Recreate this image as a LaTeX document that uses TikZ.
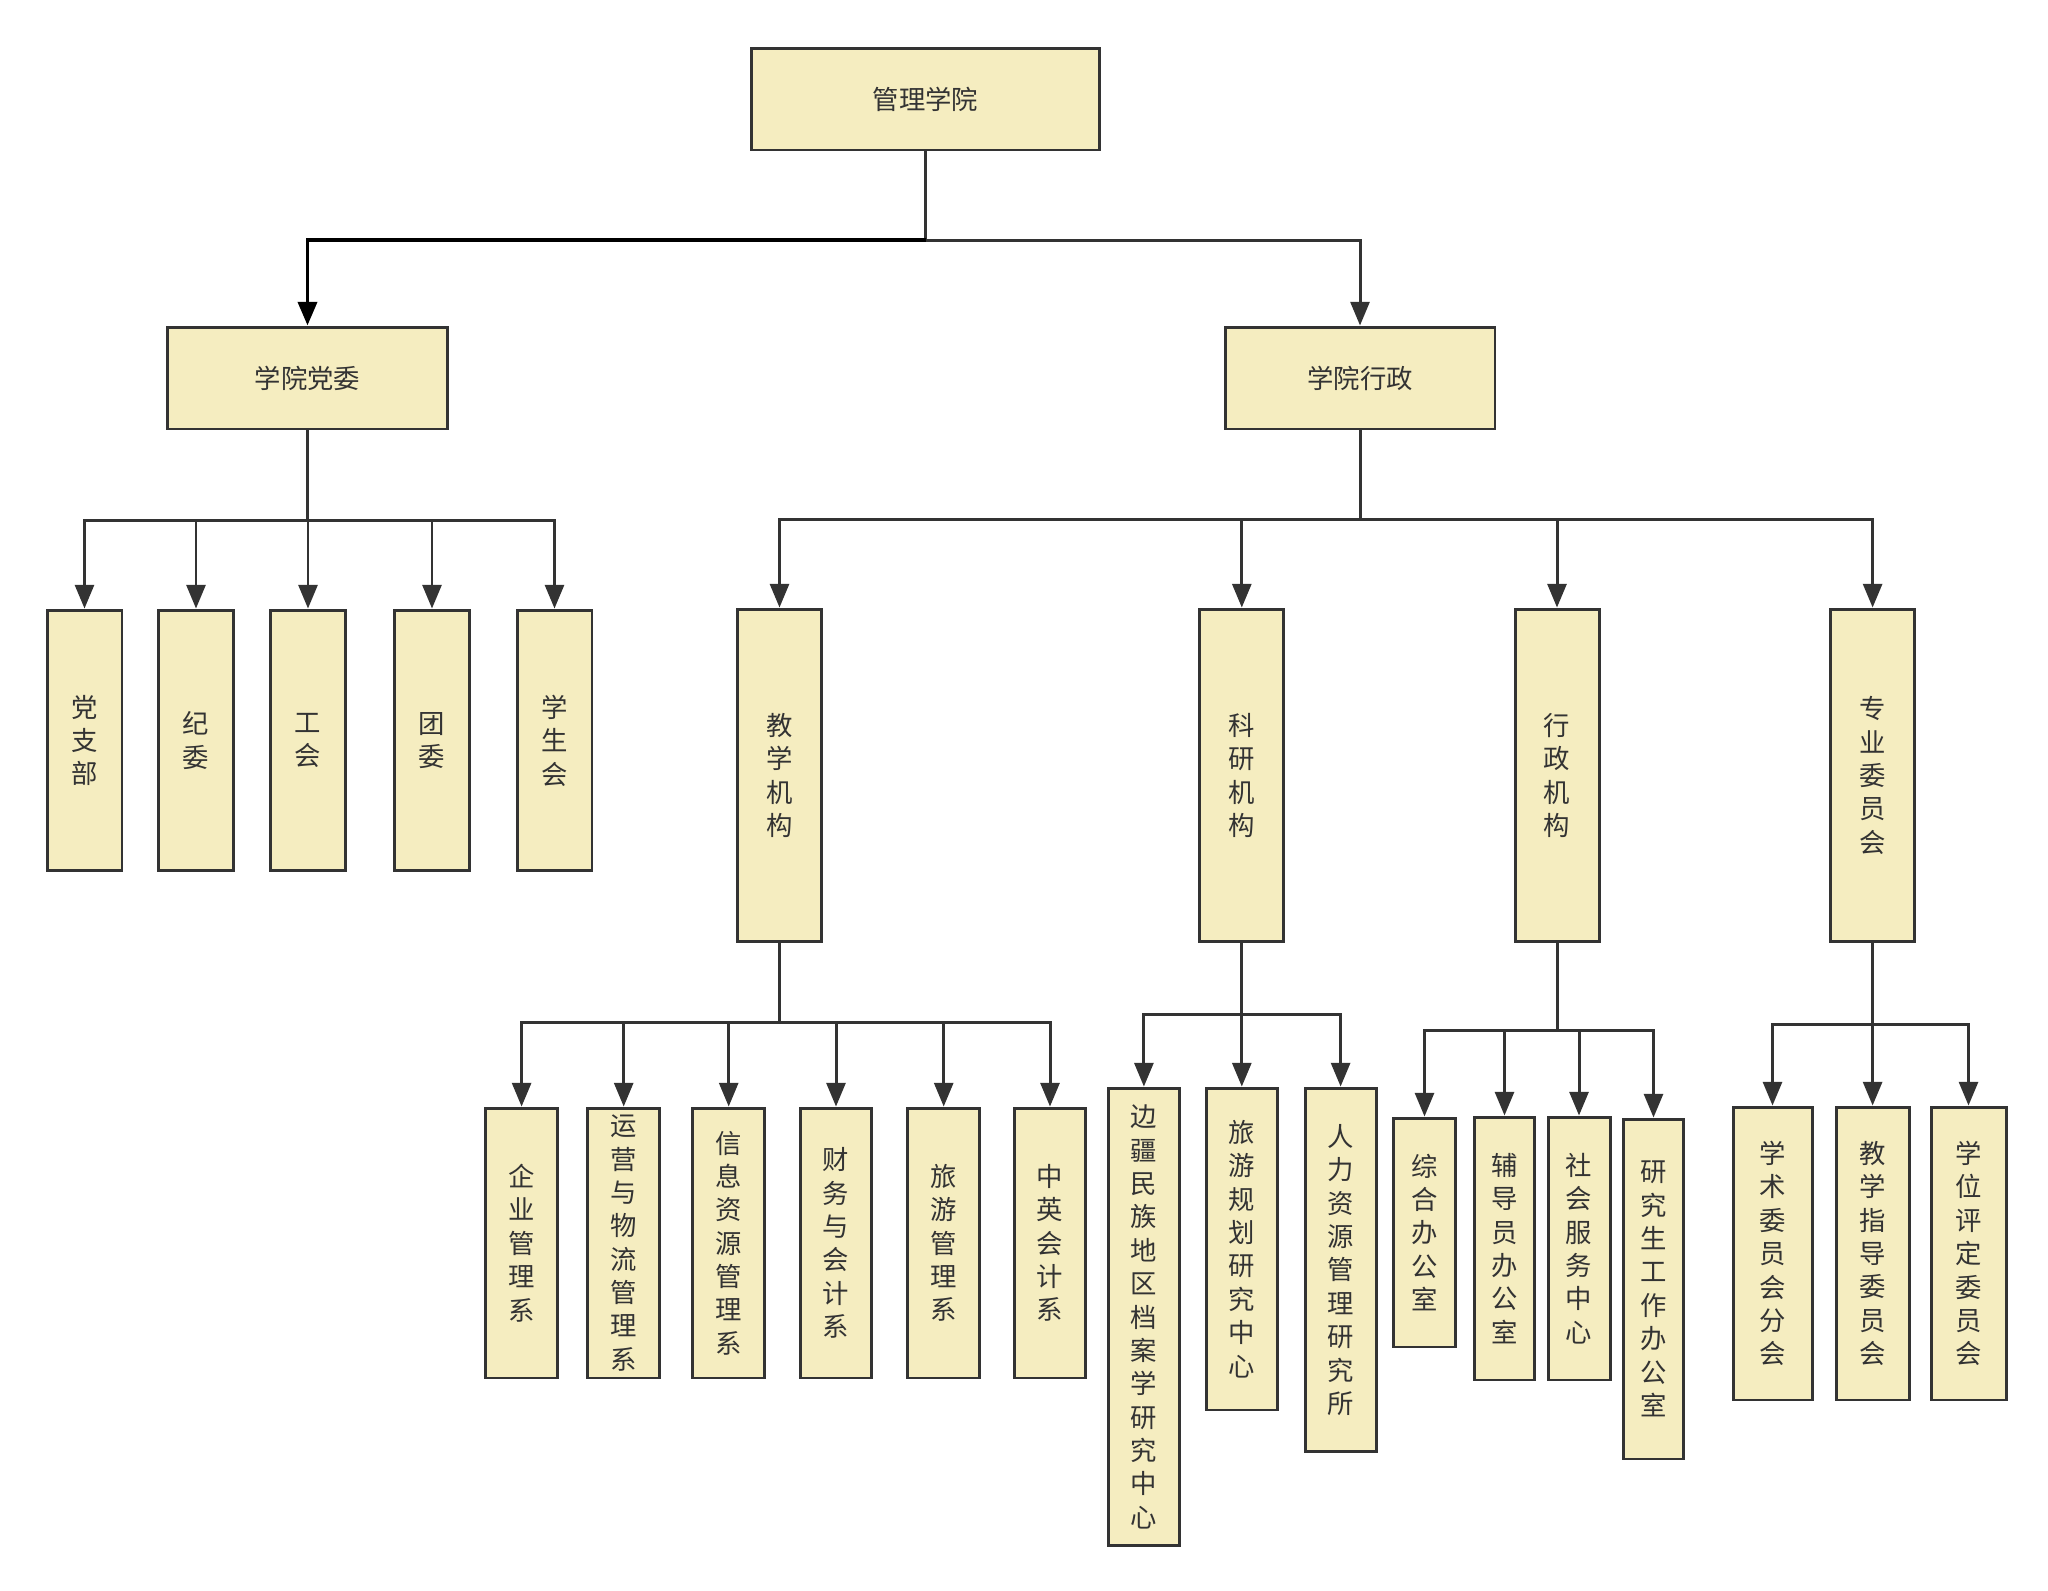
\documentclass[tikz,border=0pt]{standalone}
\usepackage{fontspec}
\newfontfamily\cjk{Noto Sans CJK SC}
\usetikzlibrary{arrows.meta}
\definecolor{kasten}{RGB}{245,237,192}
\definecolor{linie}{RGB}{51,51,51}

\begin{document}
\begin{tikzpicture}[x=0.02cm, y=-0.02cm,
	box/.style={draw=linie, fill=kasten, line width=1.7pt, inner sep=0pt, text=linie, align=center, font=\cjk\fontsize{15}{19}\selectfont},
	link/.style={linie, line width=1.7pt},
	arr/.style={link, -{Triangle[length=13.5pt,width=10.8pt]}},
	hl/.style={black, line width=2.2pt}]

	\useasboundingbox (0,0) rectangle (2048,1590);

	% Ebene 1
	\node[box, minimum width=6.98cm, minimum height=2.04cm] (G) at (925.5,99) {管理学院};

	\node[box, minimum width=5.62cm, minimum height=2.04cm] (P) at (307.5,378) {学院党委};
	\node[box, minimum width=5.4cm, minimum height=2.04cm] (A) at (1360,378) {学院行政};

	\coordinate (Gbus) at (925.5,240);
	\draw[link] (G.south) -- (Gbus);
	\draw[arr, hl] (Gbus) -| (P.north);
	\draw[arr] (Gbus) -| (A.north);

	% Ebene 2
	\node[box, minimum width=1.5cm, minimum height=5.22cm] (P1) at (84.5,740.5) {党\\支\\部};
	\node[box, minimum width=1.5cm, minimum height=5.22cm] (P2) at (196,740.5) {纪\\委};
	\node[box, minimum width=1.5cm, minimum height=5.22cm] (P3) at (308,740.5) {工\\会};
	\node[box, minimum width=1.5cm, minimum height=5.22cm] (P4) at (432,740.5) {团\\委};
	\node[box, minimum width=1.5cm, minimum height=5.22cm] (P5) at (554.5,740.5) {学\\生\\会};

	\coordinate (Pbus) at (307.5,520);
	\draw[link] (P.south) -- (Pbus);
	\foreach \k in {P1,P2,P3,P4,P5}
		\draw[arr] (Pbus) -| (\k.north);

	\node[box, minimum width=1.68cm, minimum height=6.66cm] (A1) at (779.5,775.5) {教\\学\\机\\构};
	\node[box, minimum width=1.68cm, minimum height=6.66cm] (A2) at (1241.8,775.5) {科\\研\\机\\构};
	\node[box, minimum width=1.68cm, minimum height=6.66cm] (A3) at (1557,775.5) {行\\政\\机\\构};
	\node[box, minimum width=1.68cm, minimum height=6.66cm] (A4) at (1872.6,775.5) {专\\业\\委\\员\\会};

	\coordinate (Abus) at (1360,519.5);
	\draw[link] (A.south) -- (Abus);
	\foreach \k in {A1,A2,A3,A4}
		\draw[arr] (Abus) -| (\k.north);

	% Ebene 3 - Lehre
	\node[box, minimum width=1.43cm, minimum height=5.4cm] (A11) at (521.6,1243) {企\\业\\管\\理\\系};
	\node[box, minimum width=1.43cm, minimum height=5.4cm] (A12) at (623.7,1243) {运\\营\\与\\物\\流\\管\\理\\系};
	\node[box, minimum width=1.43cm, minimum height=5.4cm] (A13) at (728.7,1243) {信\\息\\资\\源\\管\\理\\系};
	\node[box, minimum width=1.43cm, minimum height=5.4cm] (A14) at (836,1243) {财\\务\\与\\会\\计\\系};
	\node[box, minimum width=1.43cm, minimum height=5.4cm] (A15) at (943.7,1243) {旅\\游\\管\\理\\系};
	\node[box, minimum width=1.43cm, minimum height=5.4cm] (A16) at (1050,1243) {中\\英\\会\\计\\系};

	\coordinate (A1bus) at (779.5,1022);
	\draw[link] (A1.south) -- (A1bus);
	\foreach \k in {A11,A12,A13,A14,A15,A16}
		\draw[arr] (A1bus) -| (\k.north);

	% Ebene 3 - Forschung
	\node[box, minimum width=1.42cm, minimum height=9.16cm] (A21) at (1143.9,1317) {边\\疆\\民\\族\\地\\区\\档\\案\\学\\研\\究\\中\\心};
	\node[box, minimum width=1.42cm, minimum height=6.44cm] (A22) at (1241.8,1249) {旅\\游\\规\\划\\研\\究\\中\\心};
	\node[box, minimum width=1.42cm, minimum height=7.28cm] (A23) at (1340.6,1270) {人\\力\\资\\源\\管\\理\\研\\究\\所};

	\coordinate (A2bus) at (1241.8,1014.6);
	\draw[link] (A2.south) -- (A2bus);
	\foreach \k in {A21,A22,A23}
		\draw[arr] (A2bus) -| (\k.north);

	% Ebene 3 - Verwaltung
	\node[box, minimum width=1.24cm, minimum height=4.58cm] (A31) at (1424.5,1232.5) {综\\合\\办\\公\\室};
	\node[box, minimum width=1.2cm, minimum height=5.26cm] (A32) at (1504.5,1248.5) {辅\\导\\员\\办\\公\\室};
	\node[box, minimum width=1.24cm, minimum height=5.26cm] (A33) at (1579,1248.5) {社\\会\\服\\务\\中\\心};
	\node[box, minimum width=1.2cm, minimum height=6.8cm] (A34) at (1653.5,1289) {研\\究\\生\\工\\作\\办\\公\\室};

	\coordinate (A3bus) at (1557,1030);
	\draw[link] (A3.south) -- (A3bus);
	\foreach \k in {A31,A32,A33,A34}
		\draw[arr] (A3bus) -| (\k.north);

	% Ebene 3 - Ausschuesse
	\node[box, minimum width=1.58cm, minimum height=5.86cm] (A41) at (1772.5,1253.5) {学\\术\\委\\员\\会\\分\\会};
	\node[box, minimum width=1.46cm, minimum height=5.86cm] (A42) at (1872.6,1253.5) {教\\学\\指\\导\\委\\员\\会};
	\node[box, minimum width=1.5cm, minimum height=5.86cm] (A43) at (1968.5,1253.5) {学\\位\\评\\定\\委\\员\\会};

	\coordinate (A4bus) at (1872.6,1024.6);
	\draw[link] (A4.south) -- (A4bus);
	\foreach \k in {A41,A42,A43}
		\draw[arr] (A4bus) -| (\k.north);
\end{tikzpicture}
\end{document}
